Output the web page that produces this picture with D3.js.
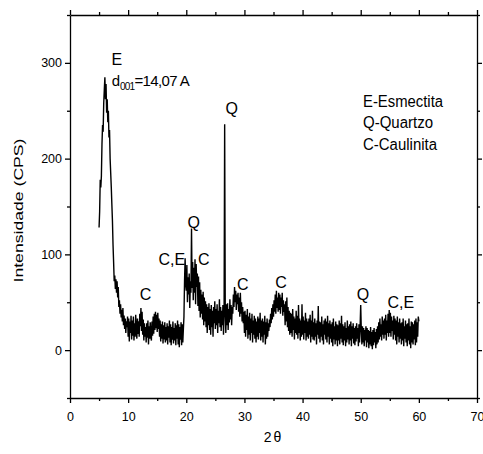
<!DOCTYPE html>
<html lang="pt">
<head>
<meta charset="UTF-8">
<title>DRX - argila</title>
<script src="https://d3js.org/d3.v7.min.js"></script>
<style>
  body { margin: 0; background: #fff; }
  #chart svg { font-family: "Liberation Sans", Arial, sans-serif; }
  .axis path, .axis line { stroke: #000; stroke-width: 1.3; }
  .axis text { font-size: 12.5px; fill: #000; }
</style>
</head>
<body>
<div id="chart"></div>
<script>
// scan: 2theta from 5 to 60, step 0.1
var scanStart = 5, scanStep = 0.1;
var intensity = [
  128, 145, 178, 170, 182, 215, 235, 228, 258, 272,
  285, 262, 278, 248, 262, 238, 250, 222, 230, 200,
  185, 170, 152, 135, 110, 92, 72, 78, 64, 74,
  60, 72, 55, 66, 45, 52, 38, 48, 34, 42,
  30, 44, 26, 36, 22, 33, 18, 30, 24, 35,
  14, 33, 9, 30, 18, 36, 11, 31, 15, 35,
  10, 28, 14, 37, 20, 12, 33, 17, 30, 14,
  38, 25, 44, 20, 40, 16, 32, 10, 28, 14,
  24, 8, 28, 13, 31, 6, 25, 12, 29, 15,
  10, 30, 15, 35, 17, 38, 21, 40, 23, 37,
  19, 39, 22, 33, 14, 31, 9, 27, 12, 30,
  7, 26, 11, 29, 8, 24, 10, 28, 6, 25,
  13, 31, 8, 27, 5, 24, 11, 30, 7, 23,
  10, 28, 5, 26, 12, 31, 6, 27, 3, 24,
  11, 29, 5, 27, 8, 22, 35, 72, 96, 68,
  62, 89, 50, 76, 58, 80, 44, 72, 60, 127,
  65, 92, 52, 86, 60, 95, 48, 90, 66, 80,
  46, 77, 41, 71, 34, 63, 38, 58, 32, 61,
  26, 55, 30, 51, 24, 48, 18, 45, 26, 49,
  21, 43, 16, 47, 24, 41, 14, 45, 28, 51,
  22, 43, 26, 48, 18, 41, 28, 53, 24, 45,
  20, 41, 26, 47, 16, 38, 236, 43, 18, 48,
  26, 49, 21, 43, 29, 53, 32, 47, 26, 45,
  38, 58, 45, 66, 50, 62, 42, 58, 48, 60,
  40, 55, 35, 60, 38, 50, 30, 45, 28, 40,
  18, 41, 14, 37, 21, 43, 12, 35, 16, 39,
  10, 33, 18, 38, 8, 31, 16, 36, 12, 33,
  8, 30, 14, 35, 11, 33, 18, 39, 10, 31,
  14, 33, 8, 30, 16, 36, 6, 29, 12, 33,
  14, 28, 20, 32, 24, 38, 28, 44, 32, 48,
  35, 52, 40, 58, 38, 62, 44, 55, 40, 60,
  42, 58, 38, 55, 45, 60, 36, 52, 40, 48,
  26, 51, 30, 55, 24, 45, 20, 41, 16, 39,
  18, 38, 14, 43, 21, 35, 11, 33, 18, 41,
  16, 36, 12, 47, 18, 33, 10, 31, 14, 48,
  16, 35, 11, 31, 18, 39, 10, 33, 14, 30,
  12, 33, 16, 37, 8, 31, 14, 41, 11, 29,
  10, 33, 14, 28, 6, 31, 16, 46, 12, 30,
  8, 29, 14, 35, 10, 27, 6, 31, 16, 33,
  11, 30, 8, 36, 14, 28, 6, 31, 12, 27,
  8, 29, 4, 33, 11, 25, 6, 30, 10, 27,
  4, 26, 10, 31, 6, 28, 12, 36, 8, 27,
  5, 25, 10, 29, 4, 23, 8, 31, 11, 25,
  6, 27, 10, 30, 4, 25, 12, 28, 7, 23,
  5, 25, 9, 28, 12, 23, 4, 27, 8, 25,
  47, 21, 6, 25, 8, 23, 4, 21, 10, 25,
  3, 23, 8, 21, 2, 20, 6, 24, 4, 19,
  1, 21, 5, 23, 8, 19, 2, 22, 6, 25,
  8, 29, 11, 33, 14, 27, 10, 35, 16, 31,
  12, 33, 16, 37, 10, 31, 18, 38, 14, 42,
  18, 39, 14, 35, 20, 31, 11, 36, 16, 33,
  10, 31, 6, 35, 14, 29, 8, 33, 12, 28,
  6, 29, 10, 33, 4, 25, 12, 31, 8, 27,
  4, 28, 10, 33, 6, 25, 2, 30, 8, 29,
  6, 27, 11, 31, 5, 33, 8, 29, 14, 35,
  30
];

var xMajor = [0, 10, 20, 30, 40, 50, 60, 70];
var xMinor = [5, 15, 25, 35, 45, 55, 65];
var yMajor = [0, 100, 200, 300];
var yMinor = [-50, 50, 150, 250, 350];

// peak labels: text, 2theta (centre), intensity (baseline)
var peakText = ["E", "Q", "Q", "C,E", "C", "C", "C", "C", "Q", "C,E"];
var peakX    = [8.05, 27.8, 21.3, 17.5, 23.0, 13.0, 29.7, 36.3, 50.4, 56.9];
var peakY    = [298, 247, 128, 89, 89, 52, 63, 65, 52, 44];

var legendLines = ["E-Esmectita", "Q-Quartzo", "C-Caulinita"];
var legendWidths = [80, 70, 74];

var W = 483, H = 454;
var margin = {top: 15, right: 6, bottom: 56, left: 70};
var width = W - margin.left - margin.right;
var height = H - margin.top - margin.bottom;

var svg = d3.select("#chart").append("svg")
    .attr("width", W)
    .attr("height", H);

var g = svg.append("g").attr("transform", "translate(" + margin.left + "," + margin.top + ")");

var x = d3.scaleLinear().domain([0, 70]).range([0, width]);
var y = d3.scaleLinear().domain([-50, 350]).range([height, 0]);

// major + minor ticks on all four sides, labels only bottom/left
function addAxis(axisFn, scale, transform, showLabels) {
    var major = axisFn(scale).tickValues(scale === x ? xMajor : yMajor)
        .tickSizeInner(5).tickSizeOuter(0).tickPadding(scale === x ? 9 : 3);
    if (!showLabels) major.tickFormat("");
    g.append("g").attr("class", "axis").attr("transform", transform).call(major);
    var minor = axisFn(scale).tickValues(scale === x ? xMinor : yMinor)
        .tickSizeInner(3).tickSizeOuter(0).tickFormat("");
    var m = g.append("g").attr("class", "axis").attr("transform", transform).call(minor);
    m.select(".domain").remove();
}
addAxis(d3.axisBottom, x, "translate(0," + height + ")", true);
addAxis(d3.axisLeft, y, null, true);
addAxis(d3.axisTop, x, null, false);
addAxis(d3.axisRight, y, "translate(" + width + ",0)", false);

// diffractogram trace
var line = d3.line()
    .x(function(d, i) { return x(scanStart + i * scanStep); })
    .y(function(d) { return y(d); });

g.append("path")
    .datum(intensity)
    .attr("fill", "none")
    .attr("stroke", "#000")
    .attr("stroke-width", 1.4)
    .attr("stroke-linejoin", "bevel")
    .attr("d", line);

// peak labels
g.selectAll(".peak")
    .data(peakText)
    .enter().append("text")
    .attr("class", "peak")
    .attr("x", function(d, i) { return x(peakX[i]); })
    .attr("y", function(d, i) { return y(peakY[i]); })
    .attr("text-anchor", "middle")
    .style("font-size", "16px")
    .text(function(d) { return d; });

// d001 annotation
var dTxt = g.append("text")
    .attr("x", x(7.18))
    .attr("y", y(276))
    .style("font-size", "15px");
dTxt.append("tspan").text("d");
dTxt.append("tspan").attr("dy", 4).style("font-size", "10px").attr("letter-spacing", "-0.8").text("001");
dTxt.append("tspan").attr("dy", -4).attr("letter-spacing", "-0.6").text("=14,07 A");

// legend block
g.selectAll(".leg")
    .data(legendLines)
    .enter().append("text")
    .attr("class", "leg")
    .attr("x", x(50.4))
    .attr("y", function(d, i) { return y(254) + i * 21.5; })
    .attr("textLength", function(d, i) { return legendWidths[i]; })
    .attr("lengthAdjust", "spacingAndGlyphs")
    .style("font-size", "16px")
    .text(function(d) { return d; });

// axis titles
svg.append("text")
    .attr("x", margin.left + width / 2)
    .attr("y", 442)
    .attr("text-anchor", "middle")
    .attr("letter-spacing", "2")
    .style("font-size", "14px")
    .text("2\u03b8");

svg.append("text")
    .attr("transform", "translate(23," + (margin.top + height / 2 + 4) + ") rotate(-90)")
    .attr("text-anchor", "middle")
    .attr("textLength", 144)
    .attr("lengthAdjust", "spacingAndGlyphs")
    .style("font-size", "13.5px")
    .text("Intensidade (CPS)");
</script>
</body>
</html>
